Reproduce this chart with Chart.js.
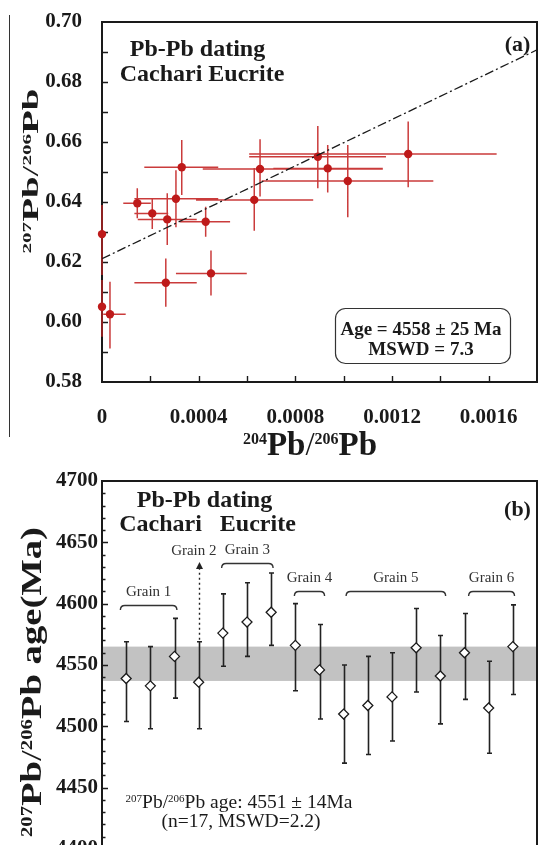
<!DOCTYPE html>
<html>
<head>
<meta charset="utf-8">
<script src="https://cdn.jsdelivr.net/npm/chart.js@4.4.1/dist/chart.umd.min.js"></script>
<style>
html,body{margin:0;padding:0;background:#fff;overflow:hidden;}
body{width:539px;height:845px;position:relative;}
#boxA{position:absolute;left:0;top:0;width:539px;height:460px;}
#boxB{position:absolute;left:0;top:460px;width:539px;height:402px;}
</style>
</head>
<body>
<div id="boxA"><canvas id="chartA"></canvas></div>
<div id="boxB"><canvas id="chartB"></canvas></div>
<script>
// ---------- Panel (a): 207Pb/206Pb vs 204Pb/206Pb ----------
const ratio204   = [0, 0, 0.000033, 0.000146, 0.000208, 0.00027, 0.000306, 0.00033, 0.000264, 0.000429, 0.000451, 0.00063, 0.000654, 0.000893, 0.000934, 0.001017, 0.001267];
const ratio204Lo = [0, 0, 0.000005, 0.000088, 0.000134, 0.000148, 0.000134, 0.000175, 0.000134, 0.000323, 0.000306, 0.000389, 0.000417, 0.000609, 0.000709, 0.000661, 0.000609];
const ratio204Hi = [0.00001, 0.00001, 0.000098, 0.000202, 0.000274, 0.000392, 0.000481, 0.000481, 0.000392, 0.00053, 0.000599, 0.000874, 0.001162, 0.001175, 0.001162, 0.001371, 0.001633];
const ratio207   = [0.6293, 0.6051, 0.6026, 0.6396, 0.6362, 0.6342, 0.6411, 0.6516, 0.6131, 0.6334, 0.6162, 0.6407, 0.6510, 0.6551, 0.6512, 0.6470, 0.6560];
const ratio207Lo = [0.6157, 0.5951, 0.5912, 0.6346, 0.6310, 0.6257, 0.6316, 0.6423, 0.6051, 0.6284, 0.6088, 0.6304, 0.6418, 0.6446, 0.6432, 0.6349, 0.6449];
const ratio207Hi = [0.6390, 0.6140, 0.6134, 0.6446, 0.6413, 0.6429, 0.6506, 0.6607, 0.6212, 0.6384, 0.6238, 0.6513, 0.6609, 0.6653, 0.6590, 0.6590, 0.6668];
const isochronX  = [0, 0.0018];
const isochronY  = [0.6211, 0.6907];
const xTickLabels = ['0', '0.0004', '0.0008', '0.0012', '0.0016'];

// ---------- Panel (b): spot ages ----------
const spotIndex = [1, 2, 3, 4, 5, 6, 7, 8, 9, 10, 11, 12, 13, 14, 15, 16, 17];
const spotAge   = [4539, 4533, 4557, 4536, 4576, 4585, 4593, 4566, 4546, 4510, 4517, 4524, 4564, 4541, 4560, 4515, 4565];
const spotAgeHi = [4569, 4565, 4588, 4569, 4608, 4617, 4625, 4600, 4583, 4550, 4557, 4560, 4596, 4574, 4592, 4553, 4599];
const spotAgeLo = [4504, 4498, 4523, 4498, 4549, 4557, 4566, 4529, 4506, 4470, 4477, 4488, 4528, 4502, 4522, 4478, 4526];
const meanAge = 4551;
const meanErr = 14;
const grainNames = ['Grain 1', 'Grain 3', 'Grain 4', 'Grain 5', 'Grain 6'];
const grain2Name = 'Grain 2';

// annotation placement (data space of panel b)
const grainFrom  = [0.76, 4.95, 7.96, 10.1, 15.17];
const grainTo    = [3.1, 7.08, 9.21, 14.22, 17.07];
const grainLevel = [4599, 4633, 4610, 4610, 4610];
const grain2Spot = 3;          // index into spot arrays
const grain2ArrowTop = 4634;
const grain2LabelX = 3.8;

const SERIF = "'Liberation Serif','Times New Roman',serif";
const INK = '#1a1a1a';

function rich(ctx, parts, cx, cy, o) {
  ctx.save();
  const fBig = `${o.weight} ${o.size}px ${SERIF}`;
  const fSup = `${o.weight} ${o.supSize}px ${SERIF}`;
  const fThin = `normal ${o.size}px ${SERIF}`;
  const fontOf = p => p.sup ? fSup : (p.thin ? fThin : (p.font || fBig));
  let total = 0;
  const ws = parts.map(p => { ctx.font = fontOf(p); const w = ctx.measureText(p.t).width; total += w; return w; });
  ctx.translate(cx, cy);
  if (o.rot) ctx.rotate(-Math.PI / 2);
  const sx = o.len ? o.len / total : 1;
  ctx.scale(sx, 1);
  ctx.fillStyle = o.color || INK;
  ctx.textAlign = 'left';
  ctx.textBaseline = 'alphabetic';
  const base = o.size * 0.33;
  const rise = 0.662 * o.size - 0.676 * o.supSize;
  let x = -total / 2;
  parts.forEach((p, i) => {
    ctx.font = fontOf(p);
    ctx.fillText(p.t, x, base - (p.sup ? rise : 0));
    x += ws[i];
  });
  ctx.restore();
}

function txt(ctx, s, x, y, font, color, align) {
  ctx.font = font; ctx.fillStyle = color || INK;
  ctx.textAlign = align || 'center'; ctx.textBaseline = 'middle';
  ctx.fillText(s, x, y);
}

function noPad(s) { s.paddingLeft = 0; s.paddingRight = 0; s.paddingTop = 0; s.paddingBottom = 0; }

const plotA = {
  id: 'plotA',
  beforeDatasetsDraw(chart) {
    const { ctx, chartArea: a, scales: { x, y } } = chart;
    ctx.save();
    // frame
    ctx.strokeStyle = INK; ctx.lineWidth = 2;
    ctx.strokeRect(a.left, a.top, a.right - a.left, a.bottom - a.top);
    // inward ticks
    ctx.lineWidth = 1.4;
    ctx.beginPath();
    for (let k = 59; k <= 69; k++) {
      const py = Math.round(y.getPixelForValue(k / 100)) + 0.5;
      ctx.moveTo(a.left, py); ctx.lineTo(a.left + 6, py);
    }
    for (let k = 1; k <= 8; k++) {
      const px = Math.round(x.getPixelForValue(k * 0.0002)) + 0.5;
      ctx.moveTo(px, a.bottom); ctx.lineTo(px, a.bottom - 6);
    }
    ctx.stroke();
    // error bars
    ctx.strokeStyle = 'rgba(196,38,38,0.9)'; ctx.lineWidth = 1.5;
    ctx.beginPath();
    for (let i = 0; i < ratio204.length; i++) {
      const px = x.getPixelForValue(ratio204[i]), py = y.getPixelForValue(ratio207[i]);
      ctx.moveTo(x.getPixelForValue(ratio204Lo[i]), py); ctx.lineTo(x.getPixelForValue(ratio204Hi[i]), py);
      ctx.moveTo(px, y.getPixelForValue(ratio207Lo[i])); ctx.lineTo(px, y.getPixelForValue(ratio207Hi[i]));
    }
    ctx.stroke();
    ctx.restore();
  },
  afterDraw(chart) {
    const { ctx } = chart;
    ctx.save();
    // crop line at far left
    ctx.strokeStyle = '#333'; ctx.lineWidth = 1;
    ctx.beginPath(); ctx.moveTo(9.5, 15); ctx.lineTo(9.5, 437); ctx.stroke();
    // titles
    txt(ctx, 'Pb-Pb dating', 197.5, 50, `bold 24px ${SERIF}`);
    txt(ctx, 'Cachari Eucrite', 202, 75, `bold 24px ${SERIF}`);
    txt(ctx, '(a)', 517.5, 45, `bold 22px ${SERIF}`);
    // age box
    ctx.strokeStyle = '#333'; ctx.lineWidth = 1.2;
    ctx.beginPath(); ctx.roundRect(335.5, 308.5, 175, 55, 10); ctx.stroke();
    txt(ctx, 'Age = 4558 ± 25 Ma', 421, 330, `bold 19px ${SERIF}`);
    txt(ctx, 'MSWD = 7.3', 421, 350.5, `bold 19px ${SERIF}`);
    // axis titles
    rich(ctx, [{t:'204',sup:1},{t:'Pb'},{t:'/',thin:1},{t:'206',sup:1},{t:'Pb'}], 310, 444.5,
         {size:33, supSize:16, weight:'bold'});
    rich(ctx, [{t:'207',sup:1},{t:'Pb'},{t:'/',thin:1},{t:'206',sup:1},{t:'Pb'}], 30, 171,
         {size:24, supSize:13, weight:'bold', rot:true, len:165});
    ctx.restore();
  }
};

const chartA = new Chart(document.getElementById('chartA'), {
  type: 'scatter',
  data: { datasets: [
    { data: isochronX.map((v, i) => ({ x: v, y: isochronY[i] })), showLine: true, borderColor: '#1a1a1a',
      borderWidth: 1.3, borderDash: [9, 3, 2, 3], pointRadius: 0, order: 0 },
    { data: ratio204.map((v, i) => ({ x: v, y: ratio207[i] })), pointRadius: 4.2, pointBackgroundColor: '#be1a1a',
      pointBorderColor: '#be1a1a', pointBorderWidth: 0, clip: false, order: 1 }
  ]},
  options: {
    responsive: true, maintainAspectRatio: false, animation: false, devicePixelRatio: 1, events: [],
    layout: { autoPadding: false, padding: { left: 0, right: 2, top: 22, bottom: 0 } },
    plugins: { legend: { display: false }, tooltip: { enabled: false } },
    scales: {
      x: { type: 'linear', min: 0, max: 0.0018,
           grid: { display: false, drawTicks: false }, border: { display: false },
           ticks: { stepSize: 0.0002, autoSkip: false, maxRotation: 0, padding: 23, color: INK,
                    font: { family: SERIF, size: 21, weight: 'bold' },
                    callback: (v) => { const q = v / 0.0004; const k = Math.round(q);
                      if (Math.abs(q - k) > 1e-6) return ''; return xTickLabels[k] || ''; } },
           afterFit: (s) => { s.height = 460 - 382; noPad(s); } },
      y: { min: 0.58, max: 0.70,
           grid: { display: false, drawTicks: false }, border: { display: false },
           ticks: { stepSize: 0.02, padding: 20, color: INK, font: { family: SERIF, size: 21, weight: 'bold' },
                    callback: (v) => Number(v).toFixed(2) },
           afterFit: (s) => { s.width = 102; noPad(s); } }
    }
  },
  plugins: [plotA]
});

const plotB = {
  id: 'plotB',
  beforeDatasetsDraw(chart) {
    const { ctx, chartArea: a, scales: { x, y } } = chart;
    ctx.save();
    // mean band
    const yTop = y.getPixelForValue(meanAge + meanErr), yBot = y.getPixelForValue(meanAge - meanErr);
    ctx.fillStyle = '#c2c2c2';
    ctx.fillRect(a.left, yTop, a.right - a.left, yBot - yTop);
    // frame
    ctx.strokeStyle = INK; ctx.lineWidth = 2;
    ctx.strokeRect(a.left, a.top, a.right - a.left, a.bottom - a.top);
    // ticks
    ctx.lineWidth = 1.3;
    ctx.beginPath();
    for (let v = 4410; v < 4700; v += 10) {
      const py = Math.round(y.getPixelForValue(v)) + 0.5;
      const len = v % 50 === 0 ? 6 : 3.5;
      ctx.moveTo(a.left, py); ctx.lineTo(a.left + len, py);
    }
    ctx.stroke();
    // error bars
    ctx.strokeStyle = '#222'; ctx.lineWidth = 1.6;
    ctx.beginPath();
    for (let i = 0; i < spotIndex.length; i++) {
      const px = Math.round(x.getPixelForValue(spotIndex[i])) + 0.5;
      const hi = y.getPixelForValue(spotAgeHi[i]), lo = y.getPixelForValue(spotAgeLo[i]);
      ctx.moveTo(px, hi); ctx.lineTo(px, lo);
      ctx.moveTo(px - 2.5, hi); ctx.lineTo(px + 2.5, hi);
      ctx.moveTo(px - 2.5, lo); ctx.lineTo(px + 2.5, lo);
    }
    ctx.stroke();
    // Grain 2 dotted arrow
    const ax = Math.round(x.getPixelForValue(spotIndex[grain2Spot])) + 0.5;
    const aTop = y.getPixelForValue(grain2ArrowTop);
    ctx.setLineDash([2, 3]); ctx.lineWidth = 1.4;
    ctx.beginPath(); ctx.moveTo(ax, y.getPixelForValue(spotAgeHi[grain2Spot]) - 2); ctx.lineTo(ax, aTop + 6); ctx.stroke();
    ctx.setLineDash([]);
    ctx.fillStyle = '#222';
    ctx.beginPath(); ctx.moveTo(ax, aTop); ctx.lineTo(ax - 3.5, aTop + 7); ctx.lineTo(ax + 3.5, aTop + 7); ctx.closePath(); ctx.fill();
    // brackets
    ctx.strokeStyle = '#333'; ctx.lineWidth = 1.4;
    for (let g = 0; g < grainNames.length; g++) {
      const x1 = x.getPixelForValue(grainFrom[g]), x2 = x.getPixelForValue(grainTo[g]);
      const yy = Math.round(y.getPixelForValue(grainLevel[g])) + 0.5, h = 4.5;
      ctx.beginPath();
      ctx.moveTo(x1, yy + h); ctx.quadraticCurveTo(x1, yy, x1 + h, yy);
      ctx.lineTo(x2 - h, yy); ctx.quadraticCurveTo(x2, yy, x2, yy + h);
      ctx.stroke();
      txt(ctx, grainNames[g], (x1 + x2) / 2, yy - 13, `15px ${SERIF}`, '#333');
    }
    txt(ctx, grain2Name, x.getPixelForValue(grain2LabelX), y.getPixelForValue(grainLevel[1]) - 12.5, `15px ${SERIF}`, '#333');
    ctx.restore();
  },
  afterDraw(chart) {
    const { ctx } = chart;
    ctx.save();
    txt(ctx, 'Pb-Pb dating', 204.5, 41, `bold 24px ${SERIF}`);
    txt(ctx, 'Cachari   Eucrite', 207.5, 64.5, `bold 24px ${SERIF}`);
    txt(ctx, '(b)', 517.5, 50, `bold 22px ${SERIF}`);
    rich(ctx, [{t:'207',sup:1},{t:'Pb/'},{t:'206',sup:1},{t:'Pb age: 4551 ± 14Ma'}], 239, 341.5,
         {size:19.5, supSize:11, weight:'normal'});
    txt(ctx, '(n=17, MSWD=2.2)', 241, 362, `19.5px ${SERIF}`);
    rich(ctx, [{t:'207',sup:1},{t:'Pb'},{t:'/',thin:1},{t:'206',sup:1},{t:'Pb age(Ma)'}], 31, 222,
         {size:30, supSize:16, weight:'bold', rot:true, len:310});
    ctx.restore();
  }
};

const chartB = new Chart(document.getElementById('chartB'), {
  type: 'scatter',
  data: { datasets: [
    { data: spotIndex.map((v, i) => ({ x: v, y: spotAge[i] })), pointStyle: 'rectRot', pointRadius: 5,
      pointBackgroundColor: '#ffffff', pointBorderColor: '#1a1a1a', pointBorderWidth: 1.3 }
  ]},
  options: {
    responsive: true, maintainAspectRatio: false, animation: false, devicePixelRatio: 1, events: [],
    layout: { autoPadding: false, padding: { left: 0, right: 2, top: 21, bottom: 13 } },
    plugins: { legend: { display: false }, tooltip: { enabled: false } },
    scales: {
      x: { type: 'linear', display: false, min: 0, max: 18 },
      y: { min: 4400, max: 4700,
           grid: { display: false, drawTicks: false }, border: { display: false },
           ticks: { stepSize: 50, padding: 4, color: INK, font: { family: SERIF, size: 21, weight: 'bold' },
                    callback: (v) => String(v) },
           afterFit: (s) => { s.width = 102; noPad(s); } }
    }
  },
  plugins: [plotB]
});
</script>
</body>
</html>
